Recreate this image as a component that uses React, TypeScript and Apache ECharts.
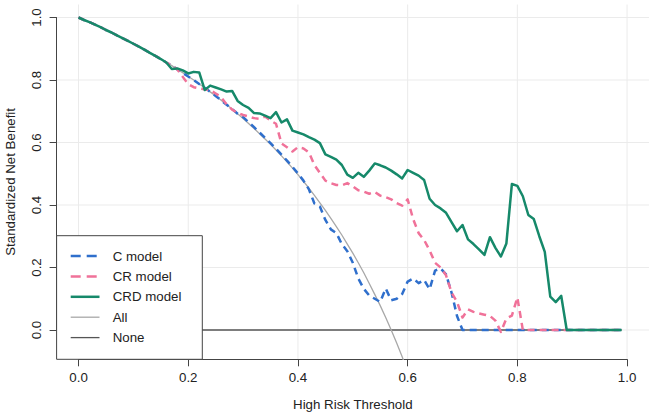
import React, { useEffect, useRef } from "react";
import * as echarts from "echarts";

// thresholds (x) 0.00 .. 0.99
const thresholds = [
  0.0, 0.01, 0.02, 0.03, 0.04, 0.05, 0.06, 0.07, 0.08, 0.09,
  0.1, 0.11, 0.12, 0.13, 0.14, 0.15, 0.16, 0.17, 0.18, 0.19,
  0.2, 0.21, 0.22, 0.23, 0.24, 0.25, 0.26, 0.27, 0.28, 0.29,
  0.3, 0.31, 0.32, 0.33, 0.34, 0.35, 0.36, 0.37, 0.38, 0.39,
  0.4, 0.41, 0.42, 0.43, 0.44, 0.45, 0.46, 0.47, 0.48, 0.49,
  0.5, 0.51, 0.52, 0.53, 0.54, 0.55, 0.56, 0.57, 0.58, 0.59,
  0.6, 0.61, 0.62, 0.63, 0.64, 0.65, 0.66, 0.67, 0.68, 0.69,
  0.7, 0.71, 0.72, 0.73, 0.74, 0.75, 0.76, 0.77, 0.78, 0.79,
  0.8, 0.81, 0.82, 0.83, 0.84, 0.85, 0.86, 0.87, 0.88, 0.89,
  0.9, 0.91, 0.92, 0.93, 0.94, 0.95, 0.96, 0.97, 0.98, 0.99,
];

// "All" strategy (thresholds 0.00 .. 0.60)
const allValues = [
  1.0, 0.992, 0.985, 0.977, 0.969, 0.96, 0.952, 0.943, 0.934, 0.925,
  0.916, 0.907, 0.897, 0.887, 0.877, 0.867, 0.856, 0.846, 0.834, 0.823,
  0.811, 0.8, 0.787, 0.775, 0.762, 0.749, 0.735, 0.721, 0.707, 0.692,
  0.677, 0.661, 0.645, 0.628, 0.611, 0.594, 0.576, 0.557, 0.538, 0.518,
  0.497, 0.476, 0.454, 0.431, 0.407, 0.383, 0.357, 0.331, 0.304, 0.275,
  0.246, 0.215, 0.183, 0.149, 0.114, 0.078, 0.04, 0.0, -0.042, -0.086,
  -0.132,
];

const cModel = [
  1.0, 0.992, 0.985, 0.977, 0.969, 0.96, 0.952, 0.943, 0.934, 0.925,
  0.916, 0.907, 0.897, 0.887, 0.877, 0.867, 0.856, 0.846, 0.834, 0.823,
  0.811, 0.8, 0.787, 0.775, 0.762, 0.749, 0.735, 0.721, 0.707, 0.692,
  0.681, 0.665, 0.649, 0.632, 0.615, 0.598, 0.58, 0.561, 0.542, 0.522,
  0.501, 0.478, 0.45, 0.405, 0.395, 0.352, 0.322, 0.31, 0.275, 0.252,
  0.215, 0.165, 0.132, 0.11, 0.1, 0.09, 0.133, 0.095, 0.1, 0.115,
  0.155, 0.165, 0.15, 0.16, 0.13, 0.19, 0.197, 0.178, 0.12, 0.045,
  0, 0, 0, 0, 0, 0, 0, 0, 0, 0,
  0, 0, 0, 0, 0, 0, 0, 0, 0, 0,
  0, 0, 0, 0, 0, 0, 0, 0, 0, 0,
];

const crModel = [
  1.0, 0.992, 0.985, 0.977, 0.969, 0.96, 0.952, 0.943, 0.934, 0.925,
  0.916, 0.907, 0.897, 0.887, 0.877, 0.867, 0.856, 0.846, 0.834, 0.81,
  0.787, 0.777, 0.773, 0.77, 0.768, 0.757, 0.745, 0.722, 0.705, 0.695,
  0.688, 0.683, 0.678, 0.676, 0.683, 0.67, 0.66, 0.597, 0.585, 0.571,
  0.585, 0.581, 0.568, 0.528, 0.503, 0.478, 0.47, 0.464, 0.463, 0.47,
  0.46, 0.447, 0.443, 0.436, 0.442, 0.43, 0.425, 0.418, 0.406, 0.398,
  0.418, 0.355, 0.31, 0.288, 0.255, 0.215, 0.2, 0.175, 0.12, 0.09,
  0.04, 0.066, 0.058, 0.053, 0.049, 0.045, 0.03, -0.006, 0.037, 0.046,
  0.104, 0, 0, 0, 0, 0, 0, 0, 0, 0,
  0, 0, 0, 0, 0, 0, 0, 0, 0, 0,
];

const crdModel = [
  1.0, 0.992, 0.985, 0.977, 0.969, 0.96, 0.952, 0.943, 0.934, 0.925,
  0.916, 0.907, 0.897, 0.887, 0.877, 0.867, 0.856, 0.835, 0.837, 0.831,
  0.821, 0.826, 0.824, 0.768, 0.782, 0.776, 0.77, 0.763, 0.765, 0.733,
  0.72, 0.711, 0.694, 0.693, 0.686, 0.678, 0.697, 0.664, 0.674, 0.638,
  0.632, 0.626, 0.617, 0.609, 0.598, 0.562, 0.554, 0.545, 0.528, 0.497,
  0.487, 0.503, 0.49, 0.51, 0.533, 0.527, 0.52, 0.51, 0.498, 0.485,
  0.512, 0.503, 0.494, 0.48, 0.42, 0.4, 0.389, 0.375, 0.345, 0.316,
  0.336, 0.29, 0.275, 0.258, 0.24, 0.297, 0.263, 0.235, 0.277, 0.467,
  0.461, 0.428, 0.368, 0.355, 0.3, 0.25, 0.107, 0.089, 0.109, 0,
  0, 0, 0, 0, 0, 0, 0, 0, 0, 0,
];

const noneThresholds = [0, 0.99];
const noneValues = [0, 0];

const xTicks = [0, 0.2, 0.4, 0.6, 0.8, 1.0];
const yTicks = [0, 0.2, 0.4, 0.6, 0.8, 1.0];

const seriesNames = ["C model", "CR model", "CRD model", "All", "None"];
const xTitle = "High Risk Threshold";
const yTitle = "Standardized Net Benefit";

const FONT = "'Liberation Sans', Arial, Helvetica, sans-serif";
const TEXT = "#222";
const AXIS = "#444";

const X_MIN = -0.04;
const X_MAX = 1.04;
const Y_MIN = -0.0938;
const Y_MAX = 1.0416;

// plot region (pixels)
const PL = 56.6;
const PT = 4.5;
const PW = 592.4;
const PH = 354.8;

// legend box (pixels)
const LEG_W = 145.7;
const LEG_TOP = 235.7;

const STYLES: Record<string, { color: string; width: number; dash: number[] | null }> = {
  "C model": { color: "#2f6fcc", width: 2.5, dash: [7, 5] },
  "CR model": { color: "#f07299", width: 2.5, dash: [7, 5] },
  "CRD model": { color: "#16896a", width: 2.5, dash: null },
  All: { color: "#a8a8a8", width: 1.3, dash: null },
  None: { color: "#555555", width: 1.3, dash: null },
};

function zip(xs: number[], ys: number[]) {
  return ys.map((y, i) => [xs[i], y]);
}

const xPix = (v: number) => PL + ((v - X_MIN) / (X_MAX - X_MIN)) * PW;
const yPix = (v: number) => PT + ((Y_MAX - v) / (Y_MAX - Y_MIN)) * PH;
const X_LEG = X_MIN + (LEG_W / PW) * (X_MAX - X_MIN);

function buildGridLines() {
  const els: any[] = [];
  const st = { stroke: "#ebebeb", lineWidth: 1 };
  xTicks.forEach((v) =>
    els.push({ type: "line", z: 0, silent: true, shape: { x1: xPix(v), y1: PT, x2: xPix(v), y2: PT + PH }, style: st })
  );
  yTicks.forEach((v) =>
    els.push({ type: "line", z: 0, silent: true, shape: { x1: PL, y1: yPix(v), x2: PL + PW, y2: yPix(v) }, style: st })
  );
  return els;
}

function buildTitles() {
  return [
    {
      type: "text",
      z: 100,
      x: PL + PW / 2,
      y: 404.5,
      style: { text: xTitle, fill: TEXT, font: `13.3px ${FONT}`, align: "center", verticalAlign: "middle" },
    },
    {
      type: "text",
      z: 100,
      x: 10,
      y: PT + PH / 2,
      rotation: Math.PI / 2,
      style: { text: yTitle, fill: TEXT, font: `13.3px ${FONT}`, align: "center", verticalAlign: "middle" },
    },
  ];
}

function buildLegend() {
  const h = PT + PH - LEG_TOP;
  const firstRow = 256;
  const rowGap = 20.4;
  const els: any[] = [
    {
      type: "rect",
      z: 100,
      shape: { x: PL, y: LEG_TOP, width: LEG_W, height: h },
      style: { fill: "#ffffff", stroke: "#444", lineWidth: 1 },
    },
  ];
  seriesNames.forEach((name, i) => {
    const s = STYLES[name];
    const y = firstRow + i * rowGap;
    els.push({
      type: "line",
      z: 101,
      shape: { x1: 70.7, y1: y, x2: 99.5, y2: y },
      style: { stroke: s.color, lineWidth: s.width, lineDash: s.dash ? [10, 6] : null },
    });
    els.push({
      type: "text",
      z: 101,
      x: 112.7,
      y: y,
      style: { text: name, fill: TEXT, font: `13.3px ${FONT}`, verticalAlign: "middle", align: "left" },
    });
  });
  return els;
}

export default function App() {
  const ref = useRef<HTMLDivElement>(null);
  useEffect(() => {
    if (!ref.current) return;
    const chart = echarts.init(ref.current, undefined, { renderer: "svg" });
    const mkSeries = (name: string, ys: number[], xs: number[], z: number, extra: any = {}) => {
      const s = STYLES[name];
      return {
        name,
        type: "line",
        xAxisIndex: 0,
        yAxisIndex: 0,
        data: zip(xs, ys),
        symbol: "none",
        showSymbol: false,
        clip: true,
        z,
        lineStyle: { color: s.color, width: s.width, type: s.dash || "solid", join: "round" },
        itemStyle: { color: s.color },
        ...extra,
      };
    };
    const lab = {
      fontFamily: FONT,
      fontSize: 13.3,
      color: TEXT,
      formatter: (v: number) => v.toFixed(1),
    };
    chart.setOption({
      animation: false,
      backgroundColor: "#fff",
      textStyle: { fontFamily: FONT, color: TEXT },
      grid: [
        { left: PL, top: PT, width: PW, height: PH },
        { left: PL, top: yPix(1), width: 20, height: yPix(0) - yPix(1) },
        { left: xPix(0), top: PT + PH - 20, width: xPix(1) - xPix(0), height: 20 },
        { left: PL + LEG_W, top: PT, width: PW - LEG_W, height: PH },
      ],
      xAxis: [
        { type: "value", gridIndex: 0, min: X_MIN, max: X_MAX, show: false },
        { type: "value", gridIndex: 1, min: 0, max: 1, show: false },
        {
          type: "value",
          gridIndex: 2,
          position: "bottom",
          min: 0,
          max: 1,
          interval: 0.2,
          axisLine: { show: true, onZero: false, lineStyle: { color: AXIS, width: 1 } },
          axisTick: { show: true, length: 7, lineStyle: { color: AXIS, width: 1 } },
          axisLabel: { margin: 12, ...lab },
          splitLine: { show: false },
        },
        { type: "value", gridIndex: 3, min: X_LEG, max: X_MAX, show: false },
      ],
      yAxis: [
        { type: "value", gridIndex: 0, min: Y_MIN, max: Y_MAX, show: false },
        {
          type: "value",
          gridIndex: 1,
          position: "left",
          min: 0,
          max: 1,
          interval: 0.2,
          axisLine: { show: true, onZero: false, lineStyle: { color: AXIS, width: 1 } },
          axisTick: { show: true, length: 7, lineStyle: { color: AXIS, width: 1 } },
          axisLabel: { margin: 14, rotate: 90, ...lab },
          splitLine: { show: false },
        },
        { type: "value", gridIndex: 2, min: 0, max: 1, show: false },
        { type: "value", gridIndex: 3, min: Y_MIN, max: Y_MAX, show: false },
      ],
      graphic: { elements: [...buildGridLines(), ...buildTitles(), ...buildLegend()] },
      series: [
        mkSeries("None", noneValues, noneThresholds, 2, { xAxisIndex: 3, yAxisIndex: 3 }),
        mkSeries("All", allValues, thresholds, 3),
        mkSeries("C model", cModel, thresholds, 4),
        mkSeries("CR model", crModel, thresholds, 5),
        mkSeries("CRD model", crdModel, thresholds, 6),
      ],
    });
    return () => chart.dispose();
  }, []);
  return (
    <div
      ref={ref}
      style={{ position: "fixed", left: 0, top: 0, width: 654, height: 417, background: "#fff" }}
    />
  );
}
